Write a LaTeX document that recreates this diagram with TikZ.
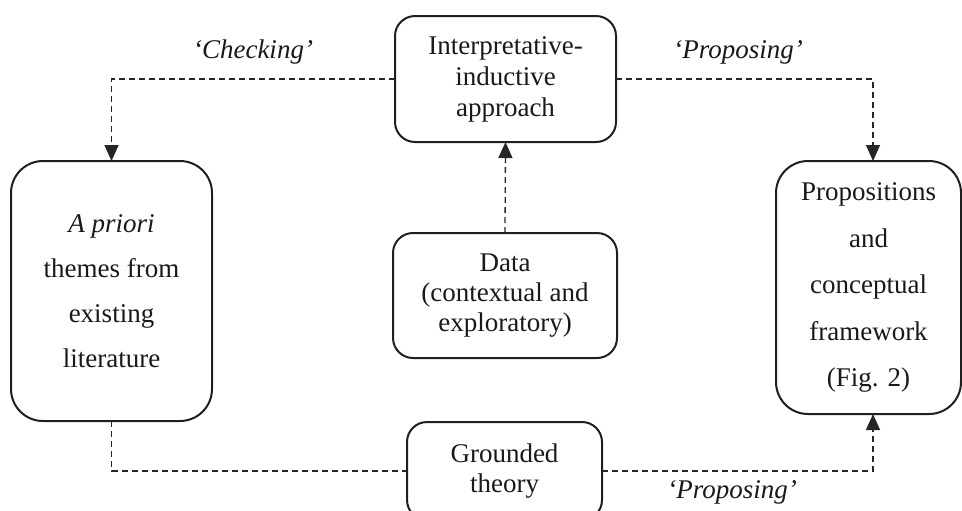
\documentclass[tikz,border=0pt]{standalone}
\usepackage{fontspec}
\setmainfont{Liberation Serif}
\usetikzlibrary{arrows.meta}
\begin{document}
\begin{tikzpicture}[x=0.5pt,y=-0.5pt,
  box/.style={draw=black!88, line width=1pt, inner sep=0pt, outer sep=0pt, align=center, text=black!90},
  dline/.style={draw=black!85, line width=0.65pt, dash pattern=on 3pt off 2pt},
  conn/.style={dline, -{Triangle[length=8pt,width=7pt]}},
  lab/.style={font=\fontsize{13.5}{15.5}\selectfont\itshape, text=black!90}]
\useasboundingbox (0,0) rectangle (962,510);
\clip (0,0) rectangle (962,510);
\node[box, rounded corners=10pt, minimum width=110.5pt, minimum height=63pt,
  font=\fontsize{13.5}{15.5}\selectfont] (interp) at (505.5,79)
  {Interpretative-\\inductive\\approach};
\node[box, rounded corners=16pt, minimum width=100.5pt, minimum height=130pt,
  font=\fontsize{13.5}{22.5}\selectfont] (lb) at (111.5,291)
  {\textit{A priori}\\themes from\\existing\\literature};
\node[box, rounded corners=16pt, minimum width=92.5pt, minimum height=126.5pt,
  font=\fontsize{13.5}{23.25}\selectfont] (rb) at (868.5,287.5)
  {Propositions\\and\\conceptual\\framework\\(Fig. 2)};
\node[box, rounded corners=10pt, minimum width=112pt, minimum height=62.5pt,
  font=\fontsize{13.5}{15}\selectfont] (data) at (505,295.5)
  {Data\\(contextual and\\exploratory)};
\node[box, rounded corners=10pt, minimum width=97.5pt, minimum height=49pt,
  font=\fontsize{13.5}{15}\selectfont] (gt) at (504.5,471)
  {Grounded\\theory};
\coordinate (rx) at (873,0);
\draw[conn] (interp.west) -| (lb.north);
\draw[conn] (interp.east) -| (rx |- rb.north);
\draw[conn] (data.north) -- (interp.south);
\draw[dline] (lb.south) |- (gt.west);
\draw[conn] (gt.east) -| (rx |- rb.south);
\node[lab] (chk) at (253,52) {‘Checking’};
\node[lab] (prop1) at (738,52) {‘Proposing’};
\node[lab] (prop2) at (732,492) {‘Proposing’};
\end{tikzpicture}
\end{document}
